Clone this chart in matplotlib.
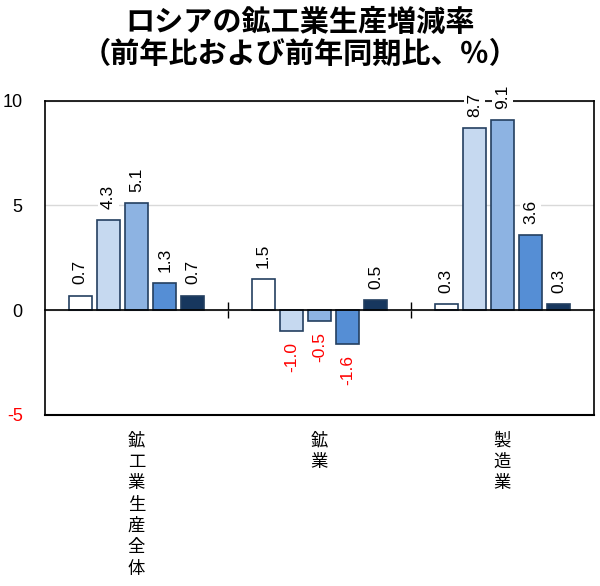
import matplotlib
matplotlib.use('Agg')
import matplotlib.pyplot as plt
import numpy as np

plt.rcParams['font.family'] = ['Liberation Sans', 'Noto Sans CJK JP', 'DejaVu Sans']

# data
categories = ['鉱工業生産全体', '鉱業', '製造業']
series_values = [
    [0.7, 1.5, 0.3],
    [4.3, -1.0, 8.7],
    [5.1, -0.5, 9.1],
    [1.3, -1.6, 3.6],
    [0.7, 0.5, 0.3],
]
bar_colors = ['#ffffff', '#c6d9f0', '#8db3e2', '#558ed5', '#17375e']
yticks = [-5, 0, 5, 10]

fig = plt.figure(figsize=(6.0, 5.86), dpi=100)
ax = fig.add_axes([0.075, 0.292, 0.915, 0.536])

x = np.arange(len(categories))
step = 0.154
width = 0.126
for k, vals in enumerate(series_values):
    pos = x + (k - 2) * step
    ax.bar(pos, vals, width, color=bar_colors[k], edgecolor='#243f60', linewidth=1.2, zorder=3)
    for p, v in zip(pos, vals):
        col = 'red' if v < 0 else 'black'
        ax.annotate(f'{v:.1f}', xy=(p, v), xytext=(0, 8 if v >= 0 else -8),
                    textcoords='offset points', rotation=90, ha='center',
                    va='bottom' if v >= 0 else 'top', fontsize=12.5, color=col,
                    annotation_clip=False, zorder=5,
                    bbox=dict(facecolor='white', edgecolor='none', pad=2))

ax.set_xlim(-0.5, 2.5)
ax.set_ylim(-5, 10)
ax.set_yticks(yticks)
ax.set_yticklabels([str(t) for t in yticks], fontsize=13)
ax.get_yticklabels()[0].set_color('red')
ax.tick_params(axis='y', length=0, pad=16)
ax.grid(axis='y', color='#d9d9d9', linewidth=1, zorder=0)

# category axis sits on the zero line
ax.spines['bottom'].set_position(('data', 0))
ax.spines['bottom'].set_zorder(4)
ax.set_xticks([0.5, 1.5])
ax.set_xticklabels([])
ax.tick_params(axis='x', direction='inout', length=12, width=1, color='black')
ax.axhline(-5, color='black', linewidth=1.5, clip_on=False)
for s in ['left', 'right', 'top', 'bottom']:
    ax.spines[s].set_linewidth(1.2)

for i, c in enumerate(categories):
    ax.annotate('\n'.join(c), xy=(i, 0), xycoords=('data', 'axes fraction'),
                xytext=(0, -12), textcoords='offset points', ha='center', va='top',
                fontsize=12.5, family=['Noto Sans CJK JP'], linespacing=1.24)

fig.text(0.5, 0.962, 'ロシアの鉱工業生産増減率', ha='center', va='center',
         fontsize=21, fontweight='bold', family=['Noto Sans CJK JP'])
fig.text(0.5, 0.908, '（前年比および前年同期比、％）', ha='center', va='center',
         fontsize=21, fontweight='bold', family=['Noto Sans CJK JP'])

fig.savefig('out.png', dpi=100)
